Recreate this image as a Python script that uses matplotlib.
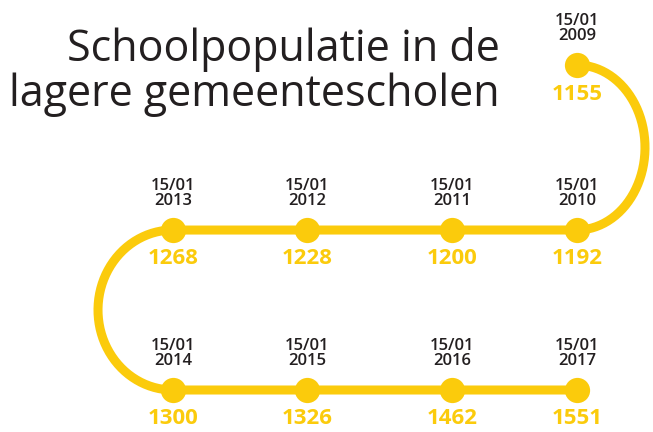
import numpy as np
import matplotlib
matplotlib.use("Agg")
import matplotlib.pyplot as plt

# ---- data ----
dates = ["15/01\n2009", "15/01\n2010", "15/01\n2011", "15/01\n2012", "15/01\n2013",
         "15/01\n2014", "15/01\n2015", "15/01\n2016", "15/01\n2017"]
values = [1155, 1192, 1200, 1228, 1268, 1300, 1326, 1462, 1551]
title = "Schoolpopulatie in de\nlagere gemeentescholen"

# ---- layout (pixel space) ----
W, H = 653, 432
YELLOW = "#FBCB0C"
DARK = "#231F20"
cols = [173, 307, 452, 577]          # column positions, left to right
row_y = [65, 230, 390]               # top (2009), middle row, bottom row

# position of each point along the snake
pos = [(cols[3], row_y[0])]
pos += [(cols[3 - i], row_y[1]) for i in range(4)]   # 2010..2013 right to left
pos += [(cols[i], row_y[2]) for i in range(4)]       # 2014..2017 left to right

fig = plt.figure(figsize=(W / 100, H / 100), dpi=100)
ax = fig.add_axes([0, 0, 1, 1])
ax.set_xlim(0, W)
ax.set_ylim(H, 0)
ax.axis("off")

# path: right half-ellipse, straight, left half-ellipse, straight
t = np.linspace(-np.pi / 2, np.pi / 2, 100)
cy1 = (row_y[0] + row_y[1]) / 2
ry1 = (row_y[1] - row_y[0]) / 2
arc1_x = cols[3] + 68 * np.cos(t)
arc1_y = cy1 + ry1 * np.sin(t)
cy2 = (row_y[1] + row_y[2]) / 2
ry2 = (row_y[2] - row_y[1]) / 2
arc2_x = cols[0] - 75 * np.cos(t)
arc2_y = cy2 + ry2 * np.sin(t)
px = np.concatenate([arc1_x, [cols[0]], arc2_x, [cols[3]]])
py = np.concatenate([arc1_y, [row_y[1]], arc2_y, [row_y[2]]])
ax.plot(px, py, color=YELLOW, lw=6.5, solid_capstyle="round", zorder=1)

xs = [p[0] for p in pos]
ys = [p[1] for p in pos]
ax.scatter(xs, ys, s=330, color=YELLOW, zorder=2, linewidths=0)

fam = ["Open Sans", "DejaVu Sans"]
for (x, y), d, v in zip(pos, dates, values):
    ax.text(x, y - 21, d, ha="center", va="bottom", fontsize=12,
            fontweight="semibold", color=DARK, family=fam, linespacing=0.95)
    ax.text(x, y + 29, str(v), ha="center", va="center", fontsize=16,
            fontweight="bold", color=YELLOW, family=fam)

ax.text(500, 72, title, ha="right", va="center", fontsize=31, color=DARK,
        family=fam, linespacing=1.02)

fig.savefig("out.png", dpi=100)
